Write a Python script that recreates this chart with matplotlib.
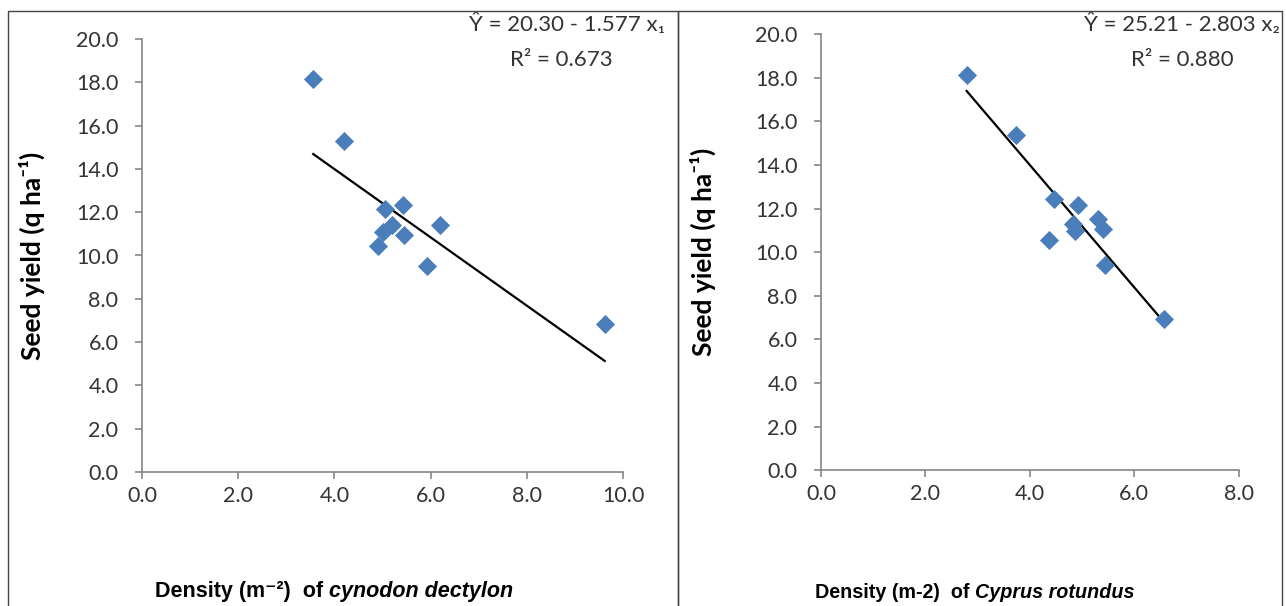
import matplotlib
matplotlib.use("Agg")
import matplotlib.pyplot as plt
from matplotlib.lines import Line2D
import numpy as np

# data
cyn_density = [3.56, 4.19, 5.05, 5.43, 5.19, 5.02, 5.45, 4.91, 6.20, 5.93, 9.62]
cyn_yield = [18.15, 15.30, 12.15, 12.35, 11.40, 11.10, 10.95, 10.45, 11.40, 9.50, 6.85]
cyp_density = [2.79, 3.74, 4.47, 4.93, 5.31, 4.83, 5.40, 4.87, 4.37, 5.45, 6.58]
cyp_yield = [18.10, 15.35, 12.45, 12.15, 11.50, 11.30, 11.05, 10.95, 10.55, 9.40, 6.95]

# regression coefficients (intercept, slope) and R2
cyn_fit = (20.30, -1.577, 0.673)
cyp_fit = (25.21, -2.803, 0.880)

y_ticks = np.arange(0, 21, 2)
cyn_x_ticks = np.arange(0, 11, 2)
cyp_x_ticks = np.arange(0, 9, 2)

blue = '#4a7ebb'
gray = '#868686'
txt = '#333333'
num_font = ['Lato', 'DejaVu Sans']
lab_font = ['Liberation Sans', 'DejaVu Sans']

W, H = 1286, 606
fig = plt.figure(figsize=(W / 100, H / 100), dpi=100)


def px(x0, y0, x1, y1):
    # pixel box -> figure fraction [left, bottom, width, height]
    return [x0 / W, 1 - y1 / H, (x1 - x0) / W, (y1 - y0) / H]


def panel(rect, xs, ys, fit, xticks, sub, eq_pos, r2_pos, ypad):
    ax = fig.add_axes(rect)
    ax.scatter(xs, ys, marker='D', s=95, color=blue, zorder=3, linewidths=0)
    b0, b1, r2 = fit
    xl = np.array([min(xs), max(xs)])
    ax.plot(xl, b0 + b1 * xl, color='black', lw=1.6, zorder=2)
    ax.set_xlim(xticks[0], xticks[-1])
    ax.set_ylim(0, 20)
    ax.set_xticks(xticks)
    ax.set_yticks(y_ticks)
    ax.set_xticklabels([f'{v:.1f}' for v in xticks], family=num_font, fontsize=15.5, color=txt)
    ax.set_yticklabels([f'{v:.1f}' for v in y_ticks], family=num_font, fontsize=15.5, color=txt)
    for s in ['top', 'right']:
        ax.spines[s].set_visible(False)
    for s in ['left', 'bottom']:
        ax.spines[s].set_color(gray)
        ax.spines[s].set_linewidth(1.2)
    ax.tick_params(axis='both', colors=gray, length=5, width=1.2, labelcolor=txt)
    ax.tick_params(axis='y', pad=12)
    ax.tick_params(axis='x', pad=5)
    ax.set_ylabel('Seed yield (q ha\u207b\u00b9)', family=num_font, fontsize=19,
                  fontweight='bold', color='black', labelpad=ypad)
    sign = '-' if b1 < 0 else '+'
    ax.text(eq_pos[0], eq_pos[1], f'\u0176 = {b0:.2f} {sign} {abs(b1):.3f} x{sub}',
            transform=ax.transAxes, ha='right', va='center', family=num_font,
            fontsize=16, color=txt)
    ax.text(r2_pos[0], r2_pos[1], f'R\u00b2 = {r2:.3f}', transform=ax.transAxes,
            ha='center', va='center', family=num_font, fontsize=16, color=txt)
    return ax


ax1 = panel(px(142, 39, 623, 472), cyn_density, cyn_yield, cyn_fit, cyn_x_ticks,
            '\u2081', (1.087, 1.035), (0.871, 0.952), 22)
ax2 = panel(px(821, 34, 1238.6, 470.4), cyp_density, cyp_yield, cyp_fit, cyp_x_ticks,
            '\u2082', (1.099, 1.023), (0.865, 0.941), 28)

# x axis titles: bold plain part followed by bold italic species name
t1 = fig.text(155 / W, 1 - 597 / H, 'Density (m\u207b\u00b2)  of ', family=lab_font,
              fontsize=15.5, fontweight='bold', color='black')
t2 = fig.text(815 / W, 1 - 598 / H, 'Density (m-2)  of ', family=lab_font,
              fontsize=14.2, fontweight='bold', color='black')

fig.canvas.draw()
r = fig.canvas.get_renderer()
for t, name, fs in [(t1, 'cynodon dectylon', 15.5), (t2, 'Cyprus rotundus', 14.2)]:
    bb = t.get_window_extent(r)
    fig.text(bb.x1 / W, t.get_position()[1], name, family=lab_font, fontsize=fs,
             fontweight='bold', style='italic', color='black')

# panel frames
for x0, x1 in [(8, 678), (678, 1282)]:
    xs = [x0 / W, x0 / W, x1 / W, x1 / W]
    ys = [-0.1, 1 - 11 / H, 1 - 11 / H, -0.1]
    fig.add_artist(Line2D(xs, ys, color='#444444', lw=1.0, transform=fig.transFigure))

fig.savefig('out.png', dpi=100)
